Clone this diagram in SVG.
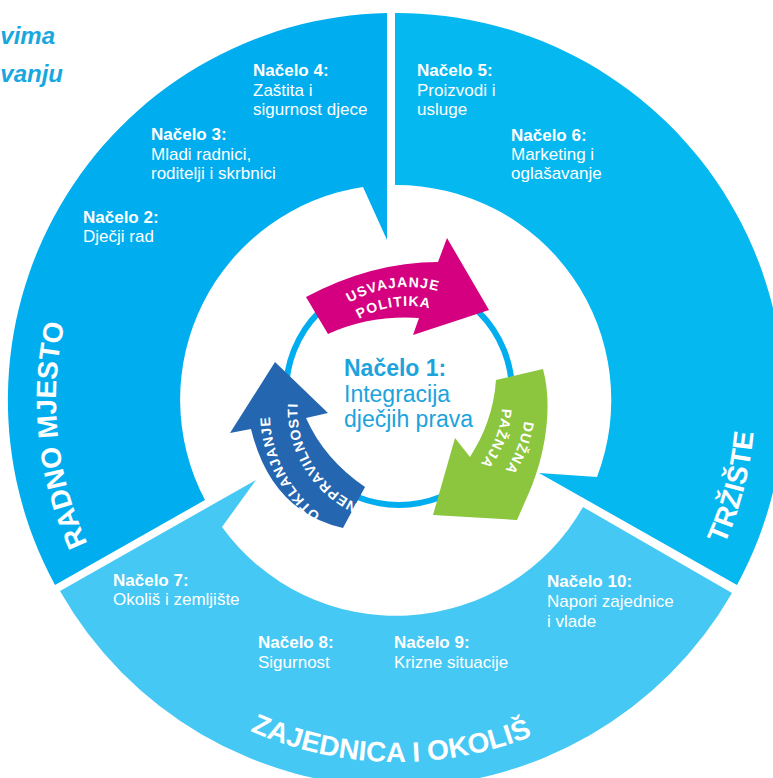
<svg xmlns="http://www.w3.org/2000/svg" width="773" height="778" viewBox="0 0 773 778">
<defs>
<style>
.hd{font-family:"Liberation Sans",Arial,sans-serif;font-weight:bold;font-size:17px;fill:#fff}
.bd{font-family:"Liberation Sans",Arial,sans-serif;font-size:17px;fill:#fff}
.ttl{font-family:"Liberation Sans",Arial,sans-serif;font-weight:bold;font-size:28px;fill:#fff}
.arw{font-family:"Liberation Sans",Arial,sans-serif;font-weight:bold;font-size:14px;fill:#fff;letter-spacing:1px}
.ctr{font-family:"Liberation Sans",Arial,sans-serif;font-size:23px;fill:#1DA3DC}
.top{font-family:"Liberation Sans",Arial,sans-serif;font-weight:bold;font-style:italic;font-size:24px;fill:#19A7E0}
</style>
<path id="pRadno" d="M 182.4,665 A 341 341 0 0 1 132,185.4"/>
<path id="pTrz" d="M 578.7,708.5 A 358 358 0 0 0 705.5,218.3"/>
<path id="pZaj" d="M 136.6,651.5 A 362 362 0 0 0 648.5,660.4"/>
<path id="pUsv" d="M 299.9,359.2 A 117 117 0 0 1 500.8,332.8"/>
<path id="pPol" d="M 316.9,367.9 A 98 98 0 0 1 484.8,343.1"/>
<path id="pDuz" d="M 500,330.8 A 117.6 117.6 0 0 1 425.4,520.3"/>
<path id="pPaz" d="M 481.5,345.4 A 94 94 0 0 1 422.1,496.9"/>
<path id="pOtk" d="M 408,540 A 128 128 0 0 1 300,330"/>
<path id="pNep" d="M 420,512 A 104 104 0 0 1 320,345"/>
</defs>
<rect width="773" height="778" fill="#fff"/>
<text class="top" x="55" y="44" text-anchor="end">vima</text>
<text class="top" x="63" y="82" text-anchor="end">vanju</text>

<g id="radno-mjesto">
<path fill="#00AEEF" d="M 55,585 A 387 387 0 0 1 387,13 L 387,240 L 363,187 A 215 215 0 0 0 205,500 Z"/>
<text class="ttl"><textPath href="#pRadno" startOffset="50%" text-anchor="middle">RADNO MJESTO</textPath></text>
<text class="hd" x="253" y="76">Načelo 4:</text>
<text class="bd" x="253" y="96">Zaštita i</text>
<text class="bd" x="253" y="115">sigurnost djece</text>
<text class="hd" x="151" y="140">Načelo 3:</text>
<text class="bd" x="151" y="160">Mladi radnici,</text>
<text class="bd" x="151" y="179">roditelji i skrbnici</text>
<text class="hd" x="83" y="223">Načelo 2:</text>
<text class="bd" x="83" y="242">Dječji rad</text>
</g>

<g id="trziste">
<path fill="#05B8F0" d="M 395,13 A 387 387 0 0 1 737,585 L 539,473 L 597,477 A 215 215 0 0 0 395,185 Z"/>
<text class="ttl"><textPath href="#pTrz" startOffset="50%" text-anchor="middle">TRŽIŠTE</textPath></text>
<text class="hd" x="417" y="76">Načelo 5:</text>
<text class="bd" x="417" y="96">Proizvodi i</text>
<text class="bd" x="417" y="115">usluge</text>
<text class="hd" x="511" y="141">Načelo 6:</text>
<text class="bd" x="511" y="160">Marketing i</text>
<text class="bd" x="511" y="179">oglašavanje</text>
</g>

<g id="zajednica">
<path fill="#45C8F4" d="M 583,507 L 732,593 A 387 387 0 0 1 60,591 L 256,480 L 222,527 A 215 215 0 0 0 583,507 Z"/>
<text class="ttl"><textPath href="#pZaj" startOffset="50%" text-anchor="middle">ZAJEDNICA I OKOLIŠ</textPath></text>
<text class="hd" x="113" y="586">Načelo 7:</text>
<text class="bd" x="113" y="605">Okoliš i zemljište</text>
<text class="hd" x="258" y="648">Načelo 8:</text>
<text class="bd" x="258" y="668">Sigurnost</text>
<text class="hd" x="394" y="648">Načelo 9:</text>
<text class="bd" x="394" y="668">Krizne situacije</text>
<text class="hd" x="547" y="587">Načelo 10:</text>
<text class="bd" x="547" y="607">Napori zajednice</text>
<text class="bd" x="547" y="627">i vlade</text>
</g>

<g id="ring">
<circle cx="399" cy="392" r="113" fill="none" stroke="#00AEEF" stroke-width="6"/>
</g>

<g id="arrows">
<g id="usvajanje-politika">
<path fill="#D5007F" d="M 306,297 Q 372,262 438,262 L 447,238 L 489,310 L 413,335 L 419,318 Q 370,315 328,334 Z"/>
<text class="arw"><textPath href="#pUsv" startOffset="50%" text-anchor="middle">USVAJANJE</textPath></text>
<text class="arw"><textPath href="#pPol" startOffset="50%" text-anchor="middle">POLITIKA</textPath></text>
</g>
<g id="duzna-paznja">
<path fill="#8CC63F" d="M 496,380 L 543,369 C 553,405 546,455 528,495 L 517,520 L 433,515 L 455,438 L 470,457 C 484,435 494,410 496,380 Z"/>
<text class="arw"><textPath href="#pDuz" startOffset="50%" text-anchor="middle">DUŽNA</textPath></text>
<text class="arw"><textPath href="#pPaz" startOffset="50%" text-anchor="middle">PAŽNJA</textPath></text>
</g>
<g id="otklanjanje">
<path fill="#2466B0" d="M 275,362 L 328,413 L 306,418 Q 324.5,459.5 365,487 L 343,528 Q 271,511.5 251,429 L 230,433 Z"/>
<text class="arw"><textPath href="#pOtk" startOffset="50%" text-anchor="middle">OTKLANJANJE</textPath></text>
<text class="arw"><textPath href="#pNep" startOffset="50%" text-anchor="middle">NEPRAVILNOSTI</textPath></text>
</g>
</g>

<g id="center">
<text class="ctr" x="344" y="376" font-weight="bold">Načelo 1:</text>
<text class="ctr" x="344" y="402">Integracija</text>
<text class="ctr" x="344" y="427">dječjih prava</text>
</g>
</svg>
